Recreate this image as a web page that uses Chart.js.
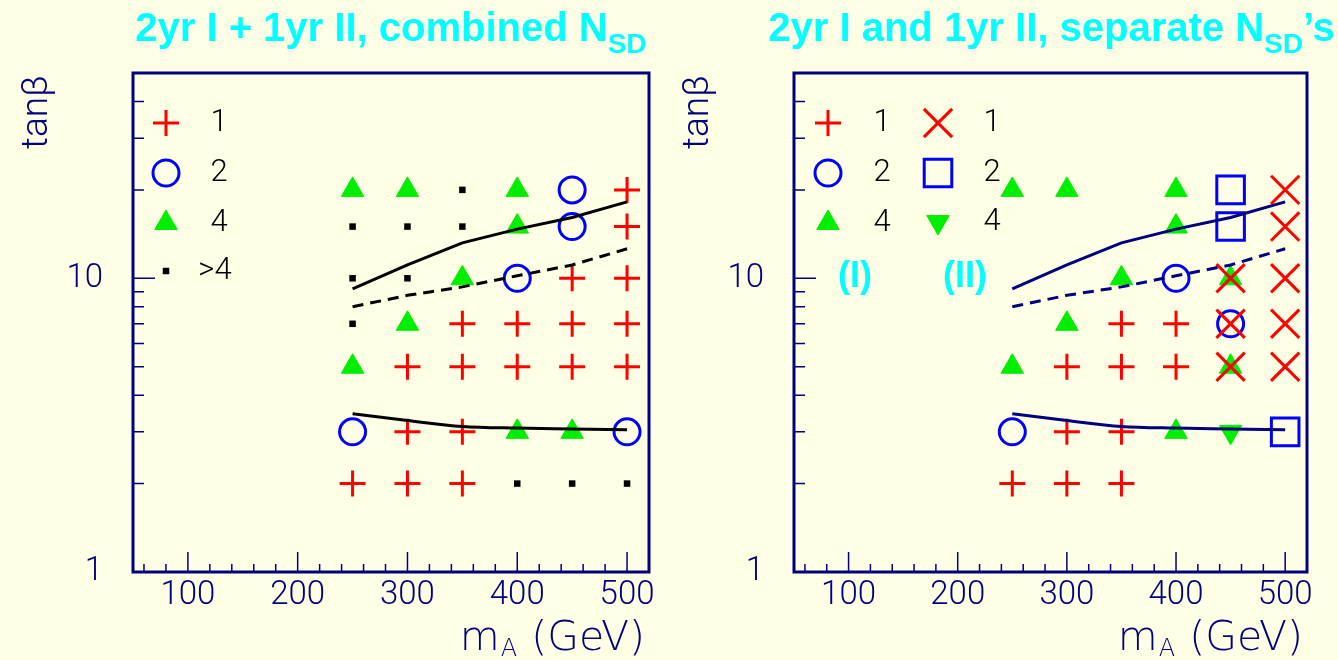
<!DOCTYPE html>
<html>
<head>
<meta charset="utf-8">
<script src="https://cdn.jsdelivr.net/npm/chart.js@4.4.1/dist/chart.umd.min.js"></script>
<style>
  body { margin: 0; background: #ffffe5; width: 1338px; height: 660px; overflow: hidden; position: relative; }
  canvas { position: absolute; top: 0; }
  .title { position: absolute; top: 3px; font: bold 40px "Liberation Sans", Arial, sans-serif; color: #00ffff; line-height: 48px; white-space: nowrap; }
  .title sub { position: relative; top: 12px; font-size: 28px; vertical-align: baseline; }
</style>
</head>
<body>
<div class="title" style="left:135px">2yr I + 1yr II, combined N<sub>SD</sub></div>
<div class="title" style="left:768px">2yr I and 1yr II, separate N<sub>SD</sub>’s</div>
<canvas id="combinedChart" width="669" height="660" style="left:0"></canvas>
<canvas id="separateChart" width="669" height="660" style="left:661px"></canvas>
<script>
// axis ticks
var massTicks = [100, 200, 300, 400, 500];
var tanbTicks = [1, 10];

// contour curves, read at these m_A values
var curveMass = [250, 300, 350, 400, 450, 500];
var upperCurve = [9.2, 11.1, 13.2, 14.7, 16.1, 18.2];
var dashedCurve = [8.0, 8.75, 9.35, 10.2, 11.1, 12.6];
var lowerCurve = [3.46, 3.28, 3.13, 3.09, 3.07, 3.05];

// left panel, combined N_SD : [m_A, tanb]
var combOne = [[500, 20], [500, 15], [450, 10], [500, 10], [350, 7], [400, 7], [450, 7], [500, 7],
  [300, 5], [350, 5], [400, 5], [450, 5], [500, 5], [300, 3], [350, 3], [250, 2], [300, 2], [350, 2]];
var combTwo = [[450, 20], [450, 15], [400, 10], [250, 3], [500, 3]];
var combFour = [[250, 20], [300, 20], [400, 20], [400, 15], [350, 10], [300, 7], [250, 5], [400, 3], [450, 3]];
var combMore = [[350, 20], [250, 15], [300, 15], [350, 15], [250, 10], [300, 10], [250, 7], [400, 2], [450, 2], [500, 2]];

// right panel, separate N_SD's  (I) and (II)
var sepOneI = [[350, 7], [400, 7], [300, 5], [350, 5], [400, 5], [300, 3], [350, 3], [250, 2], [300, 2], [350, 2]];
var sepTwoI = [[400, 10], [450, 7], [250, 3]];
var sepFourI = [[250, 20], [300, 20], [400, 20], [400, 15], [350, 10], [450, 10], [300, 7], [250, 5], [450, 5], [400, 3]];
var sepOneII = [[500, 20], [500, 15], [450, 10], [500, 10], [450, 7], [500, 7], [450, 5], [500, 5]];
var sepTwoII = [[450, 20], [450, 15], [500, 3]];
var sepFourII = [[450, 3]];

var NAVY = '#000080';
var RED = '#ff0000', BLUE = '#0000ff', GREEN = '#00ee00';

var styles = {
    plus:    { pointStyle: 'cross', radius: 13, borderWidth: 3, color: RED, fill: false },
    circle:  { pointStyle: 'circle', radius: 13, borderWidth: 3, color: BLUE, fill: false },
    tri:     { pointStyle: 'triangle', radius: 13, borderWidth: 1, color: GREEN, fill: true },
    dot:     { pointStyle: 'rect', radius: 4.6, borderWidth: 0, color: '#000000', fill: true },
    cross:   { pointStyle: 'crossRot', radius: 20, borderWidth: 3, color: RED, fill: false },
    box:     { pointStyle: 'rect', radius: 19.5, borderWidth: 3, color: BLUE, fill: false },
    triDown: { pointStyle: 'triangle', radius: 13, borderWidth: 1, color: GREEN, fill: true, rotation: 180 }
};

function markerSet(label, pts, st, order) {
    return {
        type: 'scatter',
        label: label,
        data: pts.map(function (p) { return { x: p[0], y: p[1] }; }),
        pointStyle: st.pointStyle,
        pointRadius: st.radius,
        pointHoverRadius: st.radius,
        pointRotation: st.rotation || 0,
        pointBorderWidth: st.borderWidth,
        pointBorderColor: st.color,
        pointBackgroundColor: st.fill ? st.color : 'rgba(0,0,0,0)',
        showLine: false,
        order: order
    };
}

function curveSet(vals, color, dashed, smooth) {
    return {
        type: 'line',
        data: vals.map(function (v, i) { return { x: curveMass[i], y: v }; }),
        borderColor: color,
        borderWidth: 3,
        borderDash: dashed ? [11, 7] : [],
        pointRadius: 0,
        tension: 0,
        cubicInterpolationMode: smooth ? 'monotone' : 'default',
        fill: false,
        order: 0
    };
}

// frame, inside ticks, axis titles, legend
var decor = {
    id: 'decor',
    afterDraw: function (chart, args, opts) {
        var ctx = chart.ctx, a = chart.chartArea;
        var xs = chart.scales.x, ys = chart.scales.y;
        ctx.save();

        // ticks inside the frame
        ctx.strokeStyle = NAVY;
        ctx.lineWidth = 1.5;
        ctx.beginPath();
        for (var m = 60; m <= 520; m += 20) {
            var px = xs.getPixelForValue(m);
            var len = (m % 100 === 0) ? 20 : 8;
            ctx.moveTo(px, a.bottom); ctx.lineTo(px, a.bottom - len);
        }
        [2, 3, 4, 5, 6, 7, 8, 9, 10, 20, 30, 40].forEach(function (v) {
            var py = ys.getPixelForValue(v);
            var len = (v === 10) ? 22 : 11;
            ctx.moveTo(a.left, py); ctx.lineTo(a.left + len, py);
        });
        ctx.stroke();

        // frame
        ctx.lineWidth = 3;
        ctx.strokeRect(a.left, a.top, a.right - a.left, a.bottom - a.top);

        // axis titles
        ctx.fillStyle = NAVY;
        ctx.font = '300 37px Roboto, "DejaVu Sans", sans-serif';
        ctx.save();
        ctx.translate(38, a.top + 2);
        ctx.rotate(-Math.PI / 2);
        ctx.textAlign = 'right';
        ctx.textBaseline = 'middle';
        ctx.fillText('tan\u03b2', 0, 0);
        ctx.restore();

        var big = '200 41px "DejaVu Sans", Roboto, sans-serif';
        var small = '200 24px "DejaVu Sans", Roboto, sans-serif';
        ctx.textBaseline = 'alphabetic';
        ctx.textAlign = 'left';
        ctx.font = big;
        var wm = ctx.measureText('m').width;
        var wr = ctx.measureText(' (GeV)').width;
        ctx.font = small;
        var wa = ctx.measureText('A').width;
        var x0 = a.right - 4 - wm - wa - wr - 2;
        var base = 650;
        ctx.font = big; ctx.fillText('m', x0, base);
        ctx.font = small; ctx.fillText('A', x0 + wm + 1, base + 6);
        ctx.font = big; ctx.fillText(' (GeV)', x0 + wm + wa + 2, base);

        // legend
        (opts.items || []).forEach(function (it) {
            var st = styles[it.style];
            var mx = a.left + it.dx, my = a.top + it.dy;
            ctx.lineWidth = st.borderWidth;
            ctx.strokeStyle = st.color;
            ctx.fillStyle = st.fill ? st.color : 'rgba(0,0,0,0)';
            Chart.helpers.drawPoint(ctx, {
                pointStyle: st.pointStyle, radius: st.radius,
                rotation: st.rotation || 0, borderWidth: st.borderWidth
            }, mx, my);
            ctx.fillStyle = '#000000';
            ctx.font = '300 31px Roboto, "DejaVu Sans", sans-serif';
            ctx.textAlign = 'center';
            ctx.textBaseline = 'middle';
            ctx.fillText(it.text, a.left + it.tx, my);
        });
        (opts.notes || []).forEach(function (n) {
            ctx.fillStyle = '#00ffff';
            ctx.font = 'bold 36px "Liberation Sans", Arial, sans-serif';
            ctx.textAlign = 'center';
            ctx.textBaseline = 'middle';
            ctx.fillText(n.text, a.left + n.dx, a.top + n.dy);
        });
        ctx.restore();
    }
};

function makeChart(id, datasets, decorOpts) {
    var ctx = document.getElementById(id).getContext('2d');
    var tickFont = { family: 'Roboto', size: 33, weight: '300' };
    return new Chart(ctx, {
        type: 'scatter',
        data: { datasets: datasets },
        options: {
            responsive: false,
            animation: false,
            events: [],
            layout: { padding: { top: 73, right: 20, left: 0, bottom: 0 } },
            plugins: {
                legend: { display: false },
                tooltip: { enabled: false },
                decor: decorOpts
            },
            scales: {
                x: {
                    type: 'linear',
                    min: 50,
                    max: 520,
                    grid: { display: false, drawTicks: false },
                    border: { display: false },
                    afterBuildTicks: function (s) { s.ticks = massTicks.map(function (v) { return { value: v }; }); },
                    afterFit: function (s) { s.height = 88; },
                    ticks: { color: NAVY, font: tickFont, padding: 4, autoSkip: false, maxRotation: 0,
                             callback: function (v) { return String(v); } }
                },
                y: {
                    type: 'logarithmic',
                    min: 1,
                    max: 50,
                    grid: { display: false, drawTicks: false },
                    border: { display: false },
                    afterBuildTicks: function (s) { s.ticks = tanbTicks.map(function (v) { return { value: v }; }); },
                    afterFit: function (s) { s.width = 133; },
                    ticks: { color: NAVY, font: tickFont, padding: 30,
                             callback: function (v) { return String(v); } }
                }
            }
        },
        plugins: [decor]
    });
}

document.addEventListener("DOMContentLoaded", function () {
    makeChart('combinedChart', [
        curveSet(upperCurve, '#000000', false, false),
        curveSet(dashedCurve, '#000000', true, false),
        curveSet(lowerCurve, '#000000', false, true),
        markerSet('1', combOne, styles.plus, 2),
        markerSet('2', combTwo, styles.circle, 2),
        markerSet('4', combFour, styles.tri, 2),
        markerSet('>4', combMore, styles.dot, 2)
    ], {
        items: [
            { style: 'plus', dx: 33, dy: 50, text: '1', tx: 86 },
            { style: 'circle', dx: 33, dy: 100, text: '2', tx: 86 },
            { style: 'tri', dx: 33, dy: 150, text: '4', tx: 86 },
            { style: 'dot', dx: 33, dy: 198, text: '>4', tx: 82 }
        ]
    });

    makeChart('separateChart', [
        curveSet(upperCurve, NAVY, false, false),
        curveSet(dashedCurve, NAVY, true, false),
        curveSet(lowerCurve, NAVY, false, true),
        markerSet('1 (I)', sepOneI, styles.plus, 3),
        markerSet('2 (I)', sepTwoI, styles.circle, 3),
        markerSet('4 (I)', sepFourI, styles.tri, 3),
        markerSet('1 (II)', sepOneII, styles.cross, 2),
        markerSet('2 (II)', sepTwoII, styles.box, 2),
        markerSet('4 (II)', sepFourII, styles.triDown, 2)
    ], {
        items: [
            { style: 'plus', dx: 34, dy: 50, text: '1', tx: 88 },
            { style: 'circle', dx: 34, dy: 100, text: '2', tx: 88 },
            { style: 'tri', dx: 34, dy: 150, text: '4', tx: 88 },
            { style: 'cross', dx: 144, dy: 50, text: '1', tx: 198 },
            { style: 'box', dx: 144, dy: 100, text: '2', tx: 198 },
            { style: 'triDown', dx: 144, dy: 149, text: '4', tx: 198 }
        ],
        notes: [
            { text: '(I)', dx: 61, dy: 204 },
            { text: '(II)', dx: 171, dy: 204 }
        ]
    });
});
</script>
</body>
</html>
